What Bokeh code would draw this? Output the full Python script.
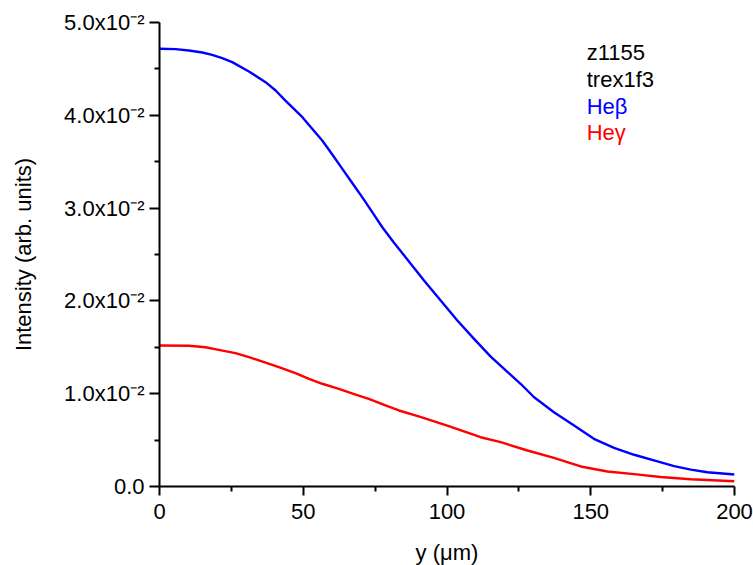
from bokeh.plotting import figure
from bokeh.models import FixedTicker, Label, Range1d
from bokeh.embed import file_html
from bokeh.resources import INLINE

# ---- data ----
beta_x = [0, 5.6, 10.2, 14.9, 18.3, 21.8, 25.3, 31.1, 36.9, 40.4, 43.8, 49.7, 53.1, 56.6, 60.1, 63.6,
          67.1, 70.5, 74.0, 77.5, 81.5, 86.0, 92.0, 97.8, 103.6, 109.4, 115.2, 121.0, 125.6, 130.3,
          137.2, 144.2, 151.1, 158.1, 165.1, 173.2, 179.0, 184.8, 190.6, 200.0]
beta_y = [0.04717, 0.04713, 0.04698, 0.04677, 0.04652, 0.04616, 0.04573, 0.04472, 0.04357, 0.04267,
          0.04159, 0.03980, 0.03854, 0.03728, 0.03578, 0.03423, 0.03268, 0.03118, 0.02956, 0.02794,
          0.02630, 0.02455, 0.02220, 0.02004, 0.01789, 0.01591, 0.01400, 0.01235, 0.01107, 0.00962,
          0.00801, 0.00657, 0.00514, 0.00417, 0.00342, 0.00270, 0.00220, 0.00182, 0.00154, 0.00129]

gamma_x = [0, 10.2, 16.0, 20.6, 26.4, 31.1, 36.9, 41.5, 47.3, 52.0, 56.6, 62.4, 68.2, 72.8, 78.6,
           83.3, 91.0, 100.1, 111.7, 118.7, 128.0, 137.2, 146.5, 155.8, 165.1, 174.3, 184.8, 200.0]
gamma_y = [0.01519, 0.01516, 0.01501, 0.01473, 0.01437, 0.01394, 0.01336, 0.01286, 0.01221, 0.01160,
           0.01107, 0.01053, 0.00991, 0.00945, 0.00873, 0.00819, 0.00748, 0.00657, 0.00531, 0.00478,
           0.00388, 0.00309, 0.00216, 0.00162, 0.00133, 0.00102, 0.00078, 0.00057]

x_tick_values = [0, 50, 100, 150, 200]
y_tick_values = [0.0, 0.01, 0.02, 0.03, 0.04, 0.05]
y_tick_mantissa = ["0.0", "1.0x10", "2.0x10", "3.0x10", "4.0x10", "5.0x10"]
y_tick_exponent = ["", "-2", "-2", "-2", "-2", "-2"]

legend_lines = ["z1155", "trex1f3", "He\u03b2", "He\u03b3"]
legend_colors = ["black", "black", "#0000ff", "#ff0000"]
legend_y = [0.0468, 0.0439, 0.0410, 0.0382]
legend_x = 148.6

FONT = "Liberation Sans"
SUP = str.maketrans("-0123456789", "\u207b\u2070\u00b9\u00b2\u00b3\u2074\u2075\u2076\u2077\u2078\u2079")

p = figure(frame_width=575, frame_height=464, output_backend="svg", toolbar_location=None,
           x_range=Range1d(0, 200), y_range=Range1d(0, 0.05),
           min_border_left=159, min_border_right=19, min_border_top=22, min_border_bottom=79)
p.outline_line_color = None
p.xgrid.visible = False
p.ygrid.visible = False
p.background_fill_color = "white"
p.border_fill_color = "white"

p.line(beta_x, beta_y, line_color="#0000ff", line_width=2.4, line_join="round")
p.line(gamma_x, gamma_y, line_color="#ff0000", line_width=2.4, line_join="round")

# x axis
xa = p.xaxis[0]
xa.ticker = FixedTicker(ticks=x_tick_values,
                        minor_ticks=[(a + b) / 2 for a, b in zip(x_tick_values[:-1], x_tick_values[1:])])
xa.axis_line_width = 2
xa.major_tick_line_width = 2
xa.minor_tick_line_width = 2
xa.major_tick_in = 0
xa.major_tick_out = 9
xa.minor_tick_in = 0
xa.minor_tick_out = 5
xa.major_label_text_font = FONT
xa.major_label_text_font_size = "22px"
xa.major_label_text_color = "black"
xa.major_label_standoff = 8
xa.axis_label = "y (\u03bcm)"
xa.axis_label_text_font = FONT
xa.axis_label_text_font_size = "22px"
xa.axis_label_text_font_style = "normal"
xa.axis_label_text_color = "black"
xa.axis_label_standoff = 18

# y axis
ya = p.yaxis[0]
ya.ticker = FixedTicker(ticks=y_tick_values,
                        minor_ticks=[(a + b) / 2 for a, b in zip(y_tick_values[:-1], y_tick_values[1:])])
ya.axis_line_width = 2
ya.major_tick_line_width = 2
ya.minor_tick_line_width = 2
ya.major_tick_in = 0
ya.major_tick_out = 10
ya.minor_tick_in = 0
ya.minor_tick_out = 5
ya.major_label_text_font = FONT
ya.major_label_text_font_size = "22px"
ya.major_label_text_color = "black"
ya.major_label_standoff = 5
ya.major_label_overrides = {v: m + e.translate(SUP)
                            for v, m, e in zip(y_tick_values, y_tick_mantissa, y_tick_exponent)}
ya.axis_label = "Intensity (arb. units)"
ya.axis_label_text_font = FONT
ya.axis_label_text_font_size = "22px"
ya.axis_label_text_font_style = "normal"
ya.axis_label_text_color = "black"
ya.axis_label_standoff = 25

# legend text block
for t, c, yy in zip(legend_lines, legend_colors, legend_y):
    p.add_layout(Label(x=legend_x, y=yy, text=t, text_color=c, text_font=FONT,
                       text_font_size="22px", text_align="left", text_baseline="alphabetic"))

open("out.html", "w").write(file_html(p, INLINE))
